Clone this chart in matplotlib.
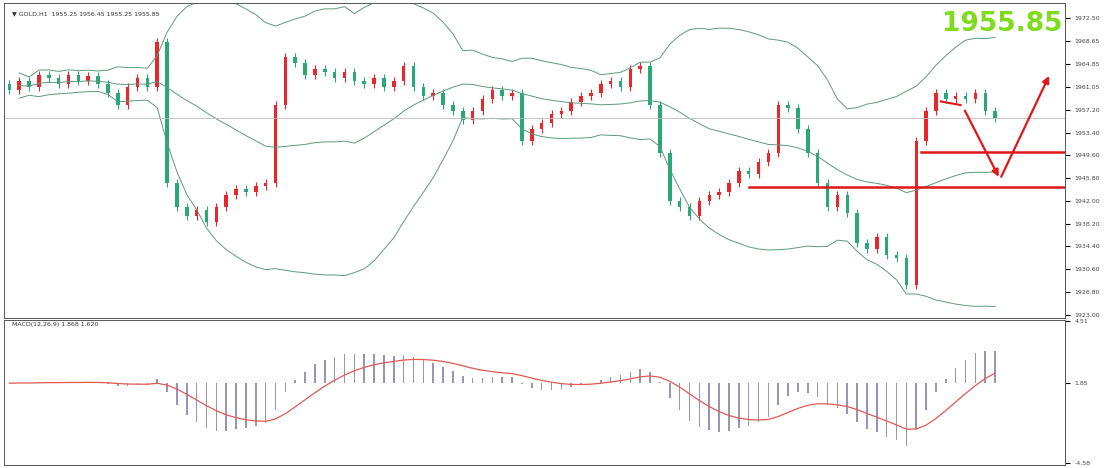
import matplotlib
matplotlib.use("Agg")
import matplotlib.pyplot as plt
import numpy as np
import pandas as pd

closes = [1960.5, 1962, 1961, 1963, 1962.5, 1961.5, 1963, 1962, 1962.8, 1961.5,
          1960, 1958, 1961, 1962.5, 1961, 1968.5, 1945, 1941, 1939.5, 1940.5,
          1938.5, 1941, 1943, 1944, 1943.5, 1944.5, 1945, 1958, 1966, 1965,
          1963, 1964, 1963.5, 1962.5, 1963.5, 1962, 1961.5, 1962.5, 1961, 1962,
          1964.5, 1961, 1959.5, 1960, 1958, 1957, 1955.5, 1957, 1959, 1960.5,
          1959.5, 1960, 1952, 1954, 1955, 1956.5, 1957, 1958.5, 1959.5, 1960,
          1961.5, 1962, 1961, 1964, 1964.5, 1958, 1950, 1942, 1941, 1939.5,
          1942, 1943, 1943.5, 1945, 1947, 1946.5, 1948.5, 1950, 1958, 1957.5,
          1954, 1950, 1945, 1941, 1943, 1940, 1935, 1934, 1936, 1933,
          1932.5, 1928, 1952, 1957, 1960, 1959, 1959.5, 1959, 1960, 1957,
          1955.8]
first_open = 1961.5
wick = 0.7

price_ticks = [1972.50, 1968.65, 1964.85, 1961.05, 1957.20, 1953.40, 1949.60,
               1945.80, 1942.00, 1938.20, 1934.40, 1930.60, 1926.80, 1923.00]

c = pd.Series(closes)
o = c.shift(1).fillna(first_open)
x = np.arange(len(c))

mid = c.rolling(20, min_periods=2).mean()
sd = c.rolling(20, min_periods=2).std()
upper, lower = mid + 2 * sd, mid - 2 * sd

macd = c.ewm(span=12).mean() - c.ewm(span=26).mean()
signal = macd.ewm(span=9).mean()

fig = plt.figure(figsize=(11.06, 4.68), dpi=100)
ax = fig.add_axes([0.004, 0.32, 0.959, 0.673])
ax2 = fig.add_axes([0.004, 0.006, 0.959, 0.31])

up_col, dn_col = "#e8262b", "#2aa878"
for i in x:
    col = up_col if c[i] >= o[i] else dn_col
    lo, hi = min(o[i], c[i]), max(o[i], c[i])
    ax.vlines(i, lo - wick, hi + wick, color=col, lw=0.8)
    ax.bar(i, max(hi - lo, 0.15), bottom=lo, width=0.35, color=col)

ax.plot(x, upper, color="#5e9a7c", lw=0.7)
ax.plot(x, lower, color="#5e9a7c", lw=0.7)
ax.plot(x, mid, color="#5e9a7c", lw=0.7)
ax.axhline(closes[-1], color="#bbbbbb", lw=0.6)

# support lines and arrows
ax.plot([92.5, 107.1], [1950.1, 1950.1], color="#e01818", lw=1.8)
ax.plot([75, 107.1], [1944.3, 1944.3], color="#e01818", lw=1.8)
ax.plot([94.5, 96.5], [1958.6, 1958.0], color="#e01818", lw=1.5)
ax.annotate("", xy=(100.5, 1945.6), xytext=(96.8, 1957.5),
            arrowprops=dict(arrowstyle="-|>", color="#e01818", lw=1.6))
ax.annotate("", xy=(105.6, 1963.3), xytext=(100.5, 1945.6),
            arrowprops=dict(arrowstyle="-|>", color="#e01818", lw=1.6))

ax.text(106.8, 1971.5, "1955.85", color="#7edc1c", fontsize=19,
        fontweight="bold", ha="right", va="center")
ax.text(0.3, 1973.3, "▼ GOLD,H1  1955.25 1956.45 1955.25 1955.85",
        fontsize=4.5, color="#333333", va="center")

ax.set_xlim(-0.5, 107.1)
ax.set_ylim(1922.4, 1975)
ax.yaxis.tick_right()
ax.set_yticks(price_ticks)
ax.set_yticklabels([f"{t:.2f}" for t in price_ticks], fontsize=4.5, color="#444444")
ax.set_xticks([])

ax2.bar(x, macd, width=0.15, color="#9a94b4")
ax2.plot(x, signal, color="#e05a50", lw=0.9)
m = float(np.abs(macd).max())
ax2.set_xlim(-0.5, 107.1)
ax2.set_ylim(-1.3 * m, 1.0 * m)
ax2.yaxis.tick_right()
ax2.set_yticks([0.98 * m, 0, -1.27 * m])
ax2.set_yticklabels(["4.51", "1.85", "-4.58"], fontsize=4.5, color="#444444")
ax2.set_xticks([])
ax2.text(0.3, 0.93 * m, "MACD(12,26,9) 1.868 1.620", fontsize=4.5, color="#333333", va="center")

for a in (ax, ax2):
    for s in a.spines.values():
        s.set_color("#555555")
        s.set_linewidth(0.7)

fig.savefig("out.png", dpi=100)
